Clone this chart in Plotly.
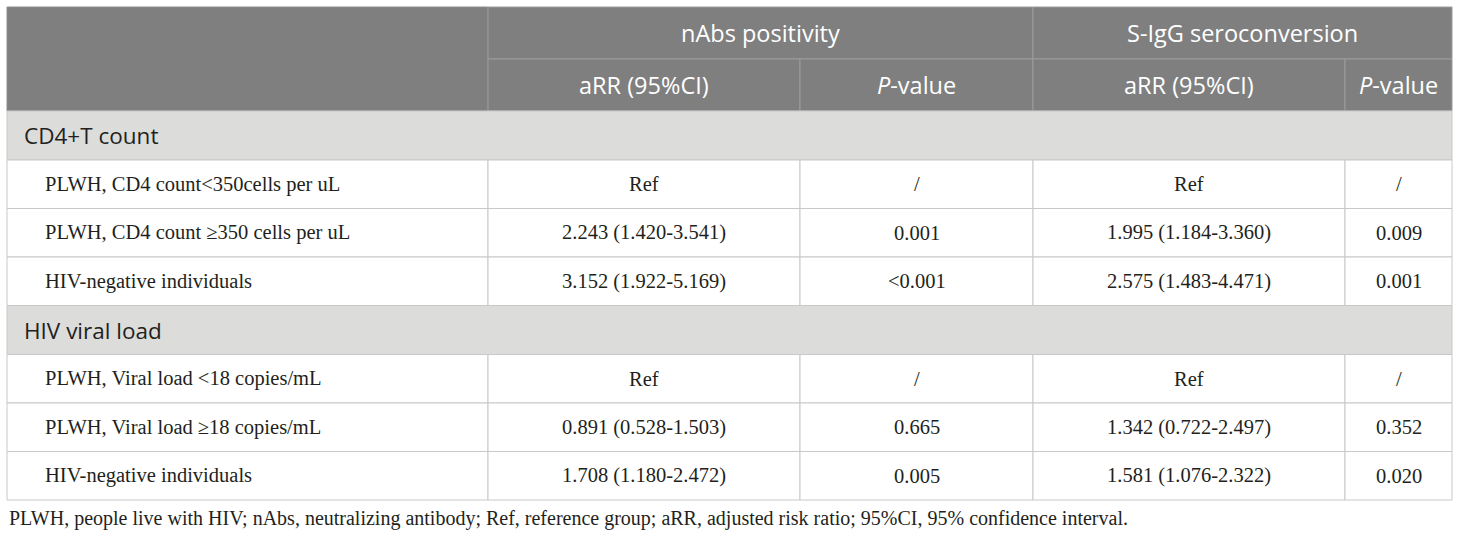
import plotly.graph_objects as go

# table content
groups = ["CD4+T count", "HIV viral load"]
row_labels = [
    ["PLWH, CD4 count<350cells per uL",
     "PLWH, CD4 count \u2265350 cells per uL",
     "HIV-negative individuals"],
    ["PLWH, Viral load <18 copies/mL",
     "PLWH, Viral load \u226518 copies/mL",
     "HIV-negative individuals"],
]
nabs_arr = [
    ["Ref", "2.243 (1.420-3.541)", "3.152 (1.922-5.169)"],
    ["Ref", "0.891 (0.528-1.503)", "1.708 (1.180-2.472)"],
]
nabs_p = [
    ["/", "0.001", "<0.001"],
    ["/", "0.665", "0.005"],
]
igg_arr = [
    ["Ref", "1.995 (1.184-3.360)", "2.575 (1.483-4.471)"],
    ["Ref", "1.342 (0.722-2.497)", "1.581 (1.076-2.322)"],
]
igg_p = [
    ["/", "0.009", "0.001"],
    ["/", "0.352", "0.020"],
]
top_headers = ["nAbs positivity", "S-IgG seroconversion"]
sub_headers = ["aRR (95%CI)", "<i>P</i>-value", "aRR (95%CI)", "<i>P</i>-value"]
footnote = ("PLWH, people live with HIV; nAbs, neutralizing antibody; Ref, reference group; "
            "aRR, adjusted risk ratio; 95%CI, 95% confidence interval.")

# layout (pixels)
W, H = 1460, 537
col_x = [7, 488, 800, 1033, 1345, 1452]
top = 7
head_h = 52
group_h = 49
row_h = 48.5
HEAD_BG = "#7f7f7f"
GROUP_BG = "#dcdcdb"
LINE = "#c8c8c8"
SANS = "Open Sans"
SERIF = "Liberation Serif"
TXT = "#231f20"

shapes = []
annots = []


def rect(x0, y0, x1, y1, fill, line=LINE):
    shapes.append(dict(type="rect", x0=x0, x1=x1, y0=y0, y1=y1, fillcolor=fill,
                       line=dict(color=line, width=1), layer="below"))


def text(x, y, s, size, family, color=TXT, anchor="center"):
    annots.append(dict(x=x, y=y, text=s, showarrow=False, xanchor=anchor, yanchor="middle",
                       font=dict(size=size, family=family, color=color)))


# header
rect(col_x[0], top, col_x[1], top + 2 * head_h, HEAD_BG, "#8c8c8c")
for i, h in enumerate(top_headers):
    x0, x1 = col_x[1 + 2 * i], col_x[3 + 2 * i]
    rect(x0, top, x1, top + head_h, HEAD_BG, "#9c9c9c")
    text((x0 + x1) / 2, top + head_h / 2, h, 23.5, SANS, "white")
for j, h in enumerate(sub_headers):
    x0, x1 = col_x[1 + j], col_x[2 + j]
    rect(x0, top + head_h, x1, top + 2 * head_h, HEAD_BG, "#9c9c9c")
    text((x0 + x1) / 2, top + 1.5 * head_h, h, 23.5, SANS, "white")

y = top + 2 * head_h
for g, name in enumerate(groups):
    rect(col_x[0], y, col_x[-1], y + group_h, GROUP_BG)
    text(col_x[0] + 15, y + group_h / 2, name, 22.5, SANS, TXT, "left")
    y += group_h
    for r in range(len(row_labels[g])):
        vals = [nabs_arr[g][r], nabs_p[g][r], igg_arr[g][r], igg_p[g][r]]
        rect(col_x[0], y, col_x[1], y + row_h, "white")
        text(col_x[0] + 36, y + row_h / 2, row_labels[g][r], 20.5, SERIF, TXT, "left")
        for j, v in enumerate(vals):
            rect(col_x[1 + j], y, col_x[2 + j], y + row_h, "white")
            text((col_x[1 + j] + col_x[2 + j]) / 2, y + row_h / 2, v, 20.5, SERIF)
        y += row_h

text(col_x[0], y + 18, footnote, 20, SERIF, TXT, "left")

fig = go.Figure()
fig.update_layout(
    width=W, height=H,
    margin=dict(l=0, r=0, t=0, b=0),
    paper_bgcolor="white", plot_bgcolor="white",
    xaxis=dict(range=[0, W], visible=False, fixedrange=True),
    yaxis=dict(range=[H, 0], visible=False, fixedrange=True),
    shapes=shapes, annotations=annots,
    showlegend=False,
)
fig.write_html("out.html", config={"displayModeBar": False},
               post_script="document.body.style.margin='0';")
